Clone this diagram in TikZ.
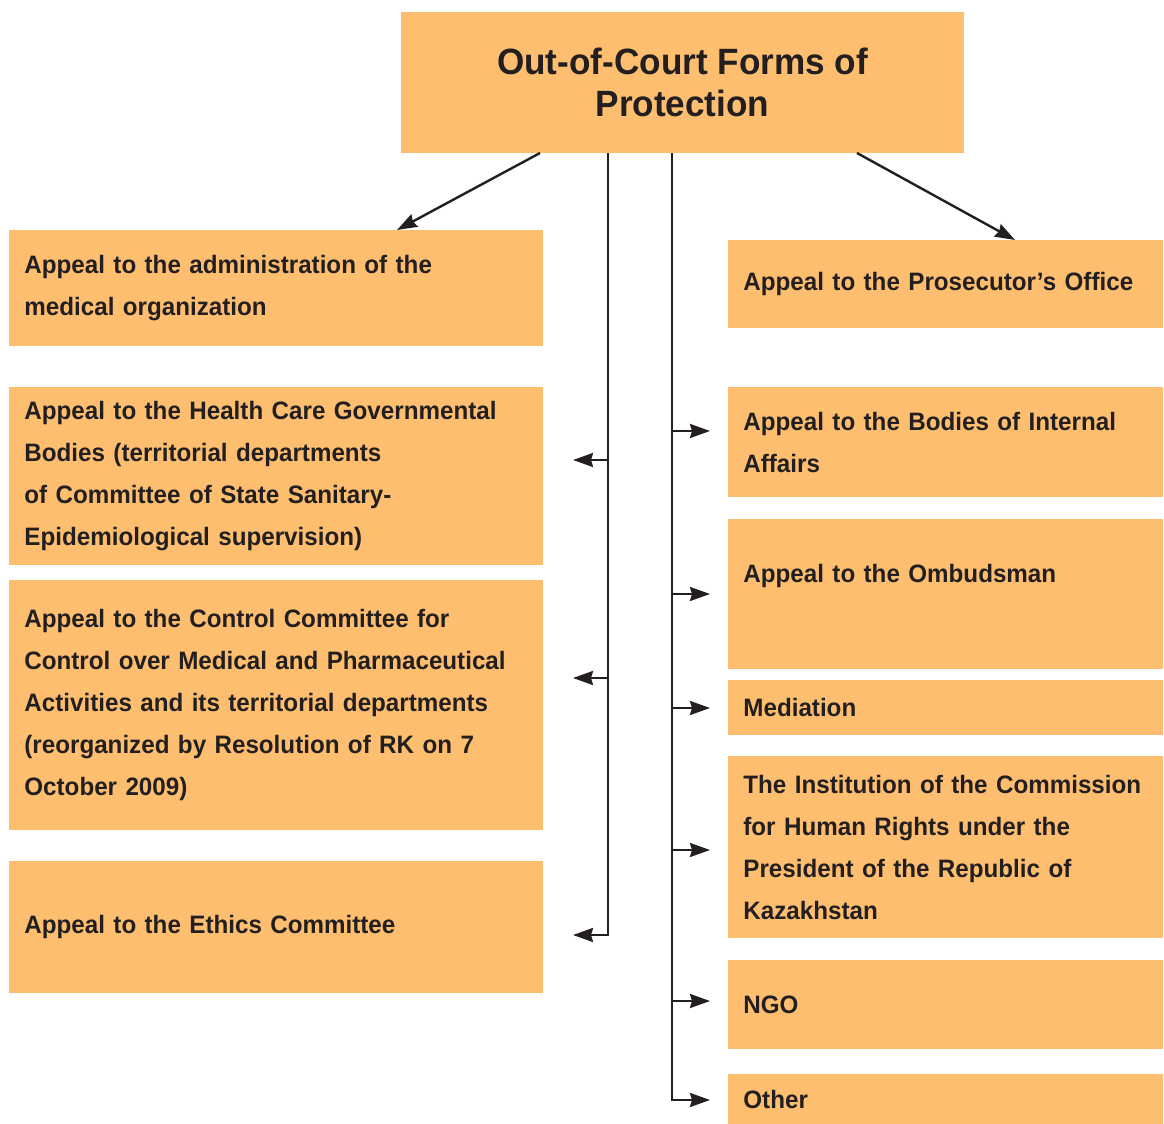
\documentclass[tikz,border=0pt]{standalone}
\usepackage{fontspec}
\setmainfont{Liberation Sans}[FakeStretch=0.96]
\usetikzlibrary{arrows.meta}
\hyphenpenalty=10000
\definecolor{boxorange}{RGB}{253,191,111}
\definecolor{inkdark}{RGB}{35,31,32}
\tikzset{
  box/.style={fill=boxorange, text=inkdark, inner xsep=7.5pt, inner ysep=0pt,
    align=left, anchor=north west,
    font=\bfseries\fontsize{12.6}{21}\selectfont},
  leftbox/.style={box, text width=252pt, minimum width=267pt, minimum height=#1*0.5pt},
  rightbox/.style={box, text width=202.5pt, minimum width=217.5pt, minimum height=#1*0.5pt},
  titlebox/.style={fill=boxorange, text=inkdark, align=center, inner sep=0pt,
    minimum width=281.5pt, minimum height=70.5pt, font=\bfseries\fontsize{18.3}{21}\selectfont},
  arr/.style={draw=inkdark, line width=1.2pt, -{Stealth[length=10pt,width=7pt,inset=1pt]}}
}
\begin{document}
\begin{tikzpicture}[x=0.5pt,y=-0.5pt]
      \useasboundingbox (0,0) rectangle (1164,1124);
      \draw
        (682.5,82.5) node[titlebox] (title){Out-of-Court Forms of\\Protection}
        (9,230) node[leftbox=116] (admin){Appeal to the administration of the\\medical organization}
        (9,387) node[leftbox=178] (health){Appeal to the Health Care Governmental\\Bodies (territorial departments\\of Committee of State Sanitary-\\Epidemiological supervision)}
        (9,580) node[leftbox=250] (control){Appeal to the Control Committee for\\Control over Medical and Pharmaceutical\\Activities and its territorial departments\\(reorganized by Resolution of RK on 7\\October 2009)}
        (9,861) node[leftbox=132] (ethics){Appeal to the Ethics Committee}
        (728,240) node[rightbox=88] (prosecutor){Appeal to the Prosecutor’s Office}
        (728,387) node[rightbox=110] (internal){Appeal to the Bodies of Internal\\Affairs}
        (728,519) node[rightbox=150] (ombudsman){Appeal to the Ombudsman\\\mbox{}}
        (728,680) node[rightbox=55] (mediation){Mediation}
        (728,756) node[rightbox=182] (commission){The Institution of the Commission\\for Human Rights under the\\President of the Republic of\\Kazakhstan}
        (728,960) node[rightbox=89] (ngo){NGO}
        (728,1074) node[rightbox=50] (other){Other};
      \coordinate (dl) at (540,153);
      \coordinate (dr) at (857,153);
      \coordinate (tl) at (608,153);
      \coordinate (tr) at (672,153);
      \coordinate (a2) at (573,460);
      \coordinate (a3) at (573,678);
      \coordinate (a4) at (573,935);
      \coordinate (b2) at (710,431);
      \coordinate (b3) at (710,594);
      \coordinate (b4) at (710,708);
      \coordinate (b5) at (710,850);
      \coordinate (b6) at (710,1001);
      \coordinate (b7) at (710,1100);
      \begin{scope}[arr]
        \draw (dl) to (admin.north west -| 397,0);
        \draw (dr) to (prosecutor.north west -| 1015,0);
        \draw (tl) |- (a4);
        \draw (tl |- a2) to (a2);
        \draw (tl |- a3) to (a3);
        \draw (tr) |- (b7);
        \draw (tr |- b2) to (b2);
        \draw (tr |- b3) to (b3);
        \draw (tr |- b4) to (b4);
        \draw (tr |- b5) to (b5);
        \draw (tr |- b6) to (b6);
      \end{scope}
    \end{tikzpicture}
\end{document}
